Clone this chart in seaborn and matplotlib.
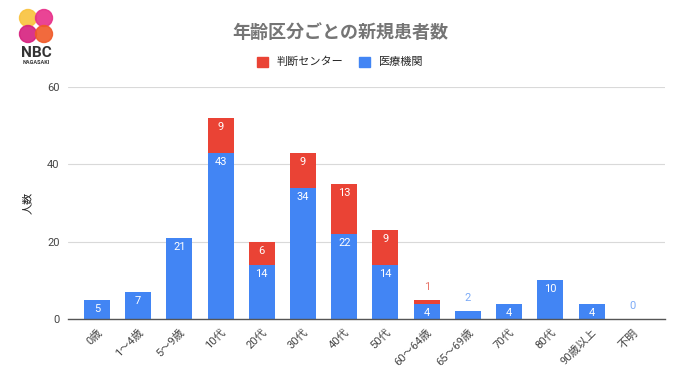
import numpy as np
import pandas as pd
import seaborn as sns
import matplotlib
import matplotlib.pyplot as plt
from matplotlib.patches import Circle, Patch

matplotlib.use('Agg')

# Data
categories = ['0歳', '1〜4歳', '5〜9歳', '10代', '20代', '30代', '40代', '50代',
              '60〜64歳', '65〜69歳', '70代', '80代', '90歳以上', '不明']
iryo = [5, 7, 21, 43, 14, 34, 22, 14, 4, 2, 4, 10, 4, 0]      # 医療機関
center = [0, 0, 0, 9, 6, 9, 13, 9, 1, 0, 0, 0, 0, 0]           # 判断センター

blue = '#4285F4'
red = '#EA4335'

sns.set_theme(style='white')
plt.rcParams['font.family'] = ['Roboto', 'Noto Sans CJK JP', 'DejaVu Sans']

df = pd.DataFrame({'cat': categories, 'iryo': iryo, 'center': center})
df['total'] = df['iryo'] + df['center']

fig = plt.figure(figsize=(6.8, 3.82), dpi=100)
ax = fig.add_axes([68 / 680, 1 - 319 / 382, (665 - 68) / 680, (319 - 87) / 382])

# stacked: total in red, blue drawn on top
sns.barplot(data=df, x='cat', y='total', color=red, saturation=1, width=0.63,
            linewidth=0, ax=ax)
sns.barplot(data=df, x='cat', y='iryo', color=blue, saturation=1, width=0.63,
            linewidth=0, ax=ax)

ax.set_ylim(0, 60)
ax.set_xlim(-0.7, 13.78)
ax.set_yticks([0, 20, 40, 60])
ax.yaxis.grid(True, color='#d9d9d9', linewidth=0.8)
ax.set_axisbelow(True)
for s in ['top', 'right', 'left']:
    ax.spines[s].set_visible(False)
ax.spines['bottom'].set_color('#555555')
ax.spines['bottom'].set_linewidth(1)
ax.tick_params(axis='both', length=0, labelsize=8, colors='#444444', pad=6)
ax.set_xticks(range(len(categories)))
ax.set_xticklabels(categories, rotation=45, ha='right', rotation_mode='anchor')
ax.set_xlabel('')
ax.set_ylabel('人数', fontsize=8, color='#222222', labelpad=10)

# value labels
px = 60 / 232  # data units per pixel
for i, (b, r) in enumerate(zip(iryo, center)):
    if b >= 4:
        ax.text(i, b - 4 * px, str(b), ha='center', va='top', color='white', fontsize=8)
    else:
        ax.text(i, b + r + 8 * px, str(b), ha='center', va='bottom', color='#7baaf7', fontsize=8)
    if r >= 4:
        ax.text(i, b + r - 4 * px, str(r), ha='center', va='top', color='white', fontsize=8)
    elif r > 0:
        ax.text(i, b + r + 8 * px, str(r), ha='center', va='bottom', color='#e8776c', fontsize=8)

# title and legend
fig.text(0.5, 1 - 33 / 382, '年齢区分ごとの新規患者数', ha='center', va='center',
         fontsize=13, fontweight='bold', color='#757575')
handles = [Patch(color=red, label='判断センター'), Patch(color=blue, label='医療機関')]
fig.legend(handles=handles, loc='center', bbox_to_anchor=(0.5, 1 - 62 / 382), ncol=2,
           frameon=False, fontsize=8, handlelength=1, handleheight=1, columnspacing=1.4,
           handletextpad=0.8)

# logo
logo = fig.add_axes([18 / 680, 1 - 44 / 382, 36 / 680, 36 / 382])
logo.set_xlim(0, 36)
logo.set_ylim(0, 36)
logo.set_aspect('equal')
logo.axis('off')
for (cx, cy, c) in [(10, 26, '#f9c23c'), (26, 26, '#e8308a'), (10, 10, '#d6207e'), (26, 10, '#f05a28')]:
    logo.add_patch(Circle((cx, cy), 8.5, color=c, alpha=0.9))
fig.text(36 / 680, 1 - 53 / 382, 'NBC', ha='center', va='center', fontsize=11,
         color='#333333', fontweight='bold', family='Roboto')
fig.text(36 / 680, 1 - 63 / 382, 'NAGASAKI', ha='center', va='center', fontsize=4,
         color='#333333', fontweight='bold')

fig.savefig('out.png', dpi=100)
